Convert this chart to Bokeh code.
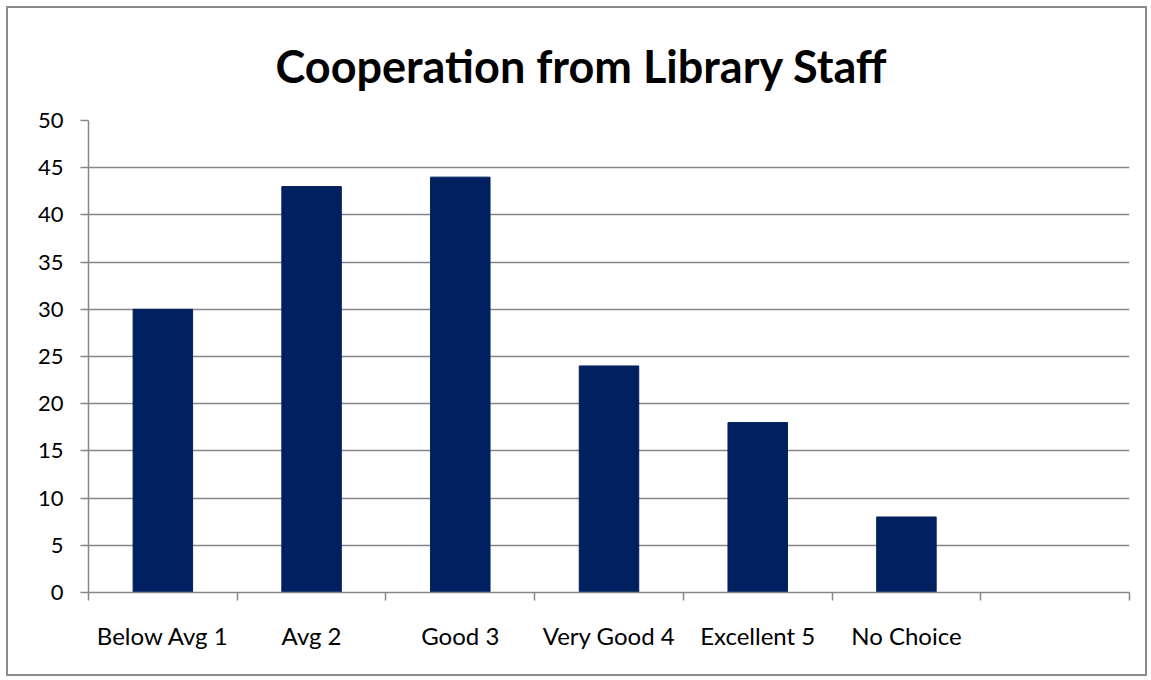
from bokeh.plotting import figure
from bokeh.models import LinearAxis, FixedTicker, Range1d
from bokeh.embed import file_html
from bokeh.resources import INLINE

categories = ["Below Avg 1", "Avg 2", "Good 3", "Very Good 4", "Excellent 5", "No Choice", ""]
values = [30, 43, 44, 24, 18, 8]
y_ticks = [0, 5, 10, 15, 20, 25, 30, 35, 40, 45, 50]
title_text = "Cooperation from Library Staff"

FONT = "Lato"
GRAY = "#868686"
n = len(categories)
centers = [i + 0.5 for i in range(n)]

p = figure(width=1141, height=670, output_backend="svg", toolbar_location=None,
           x_range=Range1d(0, n), y_range=Range1d(0, 50), x_axis_location=None,
           min_border_left=80, min_border_right=20, min_border_top=112, min_border_bottom=86)
p.styles = {"margin": "6px 0px 0px 6px", "border": "2px solid #8c8c8c"}
p.outline_line_color = None
p.background_fill_color = "white"
p.border_fill_color = "white"

p.title.text = title_text
p.title.text_font = FONT
p.title.text_font_style = "bold"
p.title.text_font_size = "45px"
p.title.align = "left"
p.title.offset = 187
p.title.text_color = "black"
p.title.standoff = 56

p.vbar(x=centers[:len(values)], top=values, width=0.4, color="#002060")

# y axis
p.yaxis.ticker = FixedTicker(ticks=y_ticks)
p.yaxis.axis_line_color = GRAY
p.yaxis.axis_line_width = 1.5
p.yaxis.major_tick_line_color = GRAY
p.yaxis.major_tick_line_width = 1.5
p.yaxis.major_tick_out = 8
p.yaxis.major_tick_in = 0
p.yaxis.minor_tick_line_color = None
p.yaxis.major_label_text_font = FONT
p.yaxis.major_label_text_font_size = "22px"
p.yaxis.major_label_text_color = "black"
p.yaxis.major_label_standoff = 17

p.ygrid.ticker = FixedTicker(ticks=y_ticks)
p.ygrid.grid_line_color = GRAY
p.ygrid.grid_line_width = 1.5
p.xgrid.grid_line_color = None

# x axis with ticks at category boundaries
ax1 = LinearAxis(ticker=FixedTicker(ticks=list(range(n + 1))))
ax1.axis_line_color = GRAY
ax1.axis_line_width = 1.5
ax1.major_tick_line_color = GRAY
ax1.major_tick_line_width = 1.5
ax1.major_tick_out = 8
ax1.major_tick_in = 0
ax1.minor_tick_line_color = None
ax1.major_label_text_font_size = "0px"
ax1.major_label_standoff = 0
p.add_layout(ax1, "below")

# labels at category centres
ax2 = LinearAxis(ticker=FixedTicker(ticks=centers))
ax2.major_label_overrides = {c: lab for c, lab in zip(centers, categories)}
ax2.axis_line_color = None
ax2.major_tick_line_color = None
ax2.minor_tick_line_color = None
ax2.major_label_text_font = FONT
ax2.major_label_text_font_size = "24px"
ax2.major_label_text_color = "black"
ax2.major_label_standoff = 14
p.add_layout(ax2, "below")

open("out.html", "w").write(file_html(p, INLINE))
